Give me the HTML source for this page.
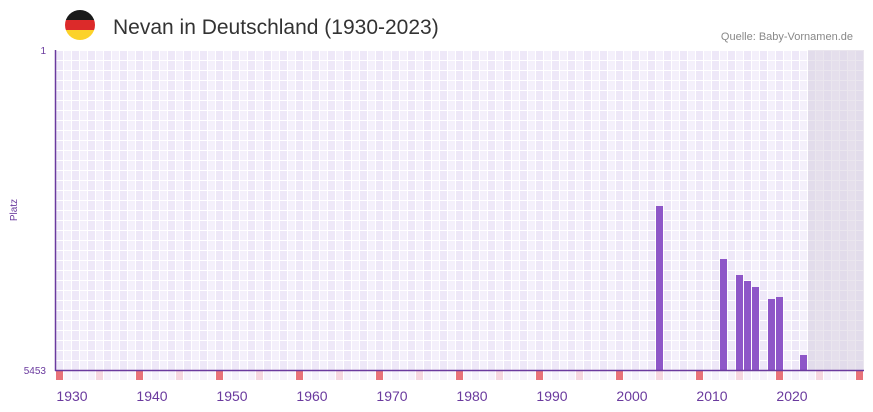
<!DOCTYPE html>
<html><head><meta charset="utf-8"><style>
html,body{margin:0;padding:0;background:#fff;}
svg{display:block;font-family:"Liberation Sans",sans-serif;}
</style></head><body>
<svg width="873" height="412" viewBox="0 0 873 412" xmlns="http://www.w3.org/2000/svg">
<defs>
<pattern id="g" x="56" y="50" width="16" height="10" patternUnits="userSpaceOnUse">
<rect width="16" height="10" fill="#fff"/>
<rect x="0" y="1" width="7" height="9" fill="#eee8f8"/>
<rect x="8" y="1" width="7" height="9" fill="#f4f0fb"/>
</pattern>
<clipPath id="fc"><circle cx="80" cy="25" r="15"/></clipPath>
</defs>
<g clip-path="url(#fc)">
<rect x="65" y="10" width="30" height="10" fill="#1a1a1a"/>
<rect x="65" y="20" width="30" height="10" fill="#dc2a2a"/>
<rect x="65" y="30" width="30" height="10" fill="#fcd22a"/>
</g>
<text x="113" y="34" font-size="21" fill="#333">Nevan in Deutschland (1930-2023)</text>
<text x="853" y="40" font-size="11" fill="#888" text-anchor="end">Quelle: Baby-Vornamen.de</text>
<rect x="56" y="50" width="808" height="320" fill="url(#g)"/>
<rect x="808" y="50" width="56" height="320" fill="#d8d2e0" opacity="0.55"/>
<rect x="56" y="370" width="808" height="10" fill="url(#g)" opacity="0.6"/>
<g fill="#e8737a">
<rect x="56" y="371" width="7" height="9"/><rect x="136" y="371" width="7" height="9"/><rect x="216" y="371" width="7" height="9"/><rect x="296" y="371" width="7" height="9"/><rect x="376" y="371" width="7" height="9"/><rect x="456" y="371" width="7" height="9"/><rect x="536" y="371" width="7" height="9"/><rect x="616" y="371" width="7" height="9"/><rect x="696" y="371" width="7" height="9"/><rect x="776" y="371" width="7" height="9"/><rect x="856" y="371" width="7" height="9"/>
</g>
<g fill="#f5d7e0">
<rect x="96" y="371" width="7" height="9"/><rect x="176" y="371" width="7" height="9"/><rect x="256" y="371" width="7" height="9"/><rect x="336" y="371" width="7" height="9"/><rect x="416" y="371" width="7" height="9"/><rect x="496" y="371" width="7" height="9"/><rect x="576" y="371" width="7" height="9"/><rect x="656" y="371" width="7" height="9"/><rect x="736" y="371" width="7" height="9"/><rect x="816" y="371" width="7" height="9"/>
</g>
<g fill="#8e57c8">
<rect x="656" y="206" width="7" height="164"/>
<rect x="720" y="259" width="7" height="111"/>
<rect x="736" y="275" width="7" height="95"/>
<rect x="744" y="281" width="7" height="89"/>
<rect x="752" y="287" width="7" height="83"/>
<rect x="768" y="299" width="7" height="71"/>
<rect x="776" y="297" width="7" height="73"/>
<rect x="800" y="355" width="7" height="15"/>
</g>
<line x1="55.5" y1="50" x2="55.5" y2="371" stroke="#6a3a9e" stroke-width="1.5"/>
<line x1="55" y1="370.5" x2="864" y2="370.5" stroke="#6a3a9e" stroke-width="1.5"/>
<g fill="#6a3a9e" font-size="10" text-anchor="end">
<text x="46" y="54">1</text>
<text x="46" y="374">5453</text>
</g>
<text x="17" y="210" font-size="10" fill="#6a3a9e" text-anchor="middle" transform="rotate(-90 17 210)">Platz</text>
<g fill="#6a3a9e" font-size="14" text-anchor="middle">
<text x="72" y="401">1930</text><text x="152" y="401">1940</text><text x="232" y="401">1950</text><text x="312" y="401">1960</text><text x="392" y="401">1970</text><text x="472" y="401">1980</text><text x="552" y="401">1990</text><text x="632" y="401">2000</text><text x="712" y="401">2010</text><text x="792" y="401">2020</text>
</g>
</svg>
</body></html>
